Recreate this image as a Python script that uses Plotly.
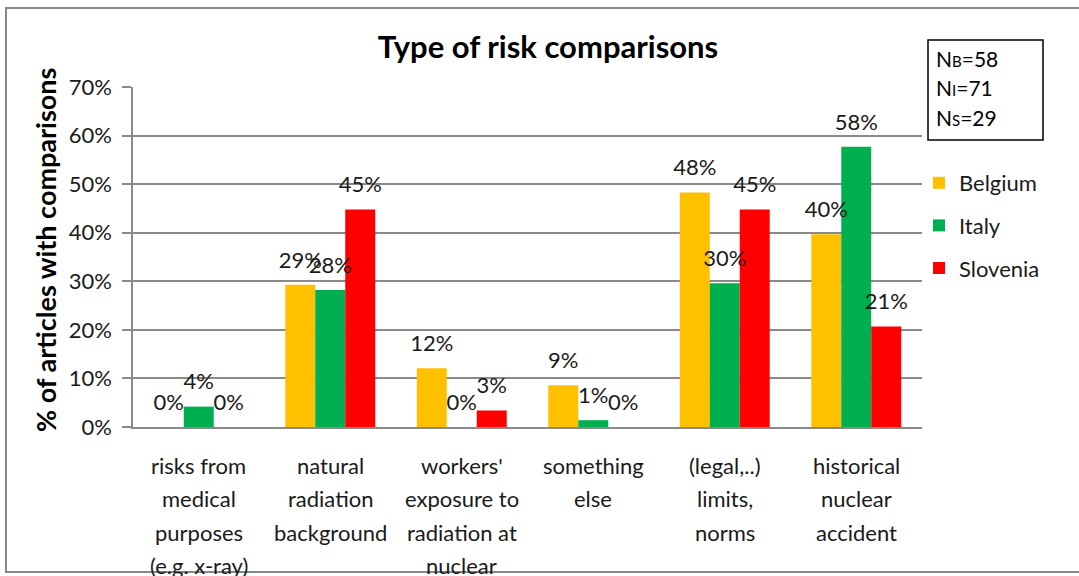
import plotly.graph_objects as go

# ---- data -------------------------------------------------------------
category_lines = [
    ["risks from", "medical", "purposes", "(e.g. x-ray)"],
    ["natural", "radiation", "background"],
    ["workers'", "exposure to", "radiation at", "nuclear"],
    ["something", "else"],
    ["(legal,..)", "limits,", "norms"],
    ["historical", "nuclear", "accident"],
]
categories = [" ".join(lines) for lines in category_lines]

belgium = [0.0, 0.293, 0.121, 0.086, 0.483, 0.397]
italy = [0.042, 0.282, 0.0, 0.014, 0.296, 0.577]
slovenia = [0.0, 0.448, 0.034, 0.0, 0.448, 0.207]

series_names = ["Belgium", "Italy", "Slovenia"]
series_values = [belgium, italy, slovenia]
series_colors = ["#FFC000", "#00B050", "#FF0000"]

sample_sizes = [("B", 58), ("I", 71), ("S", 29)]

y_ticks = [0, 0.1, 0.2, 0.3, 0.4, 0.5, 0.6, 0.7]

# ---- layout geometry (pixels) ----------------------------------------
W, H = 1079, 576
L, R, T, B = 133, 922, 87, 427
FONT = "Lato"
GRID = "#8a8a8a"


def px_x(p):
    return (p - L) / (R - L)


def px_y(p):
    return (B - p) / (B - T)


fig = go.Figure()

for name, vals, col in zip(series_names, series_values, series_colors):
    fig.add_trace(go.Bar(
        x=categories, y=vals, name=name, marker_color=col,
        marker_line_width=0, offsetgroup=name, legendgroup=name,
        hoverinfo="x+y+name",
    ))

# value labels sitting above each bar
for name, vals in zip(series_names, series_values):
    fig.add_trace(go.Scatter(
        x=categories, y=vals, mode="markers+text", offsetgroup=name,
        marker=dict(size=17, opacity=0), texttemplate="%{y:.0%}",
        textposition="top center",
        textfont=dict(family=FONT, size=22, color="#1a1a1a"),
        cliponaxis=False, showlegend=False, hoverinfo="skip",
    ))

annotations = []
# wrapped category labels below the axis
for cat, lines in zip(categories, category_lines):
    for i, line in enumerate(lines):
        annotations.append(dict(
            x=cat, xref="x", y=0, yref="paper", yanchor="middle",
            yshift=-(38 + 33.5 * i), text=line, showarrow=False,
            font=dict(family=FONT, size=22, color="#1a1a1a"),
        ))

# y-axis title
annotations.append(dict(
    x=px_x(45), xref="paper", y=px_y(250), yref="paper",
    text="% of articles with comparisons", textangle=-90, showarrow=False,
    xanchor="center", yanchor="middle",
    font=dict(family=FONT, size=27, color="black", weight="bold"),
))

# sample size box, one line per country
for i, (k, n) in enumerate(sample_sizes):
    annotations.append(dict(
        x=px_x(934), xref="paper", y=px_y(58 + 29.5 * i), yref="paper",
        xanchor="left", yanchor="middle", align="left",
        text=f"N<span style='font-size:15px'>{k}</span>={n}",
        showarrow=False, font=dict(family=FONT, size=21, color="black"),
    ))

shapes = [
    # sample size frame
    dict(type="rect", xref="paper", yref="paper",
         x0=px_x(928), x1=px_x(1043), y0=px_y(140), y1=px_y(40),
         line=dict(color="black", width=1.5)),
    # chart area frame
    dict(type="rect", xref="paper", yref="paper",
         x0=px_x(6), x1=px_x(1090), y0=px_y(572), y1=px_y(8),
         line=dict(color="#878787", width=2)),
]

fig.update_layout(
    width=W, height=H, autosize=False,
    margin=dict(l=L, r=W - R, t=T, b=H - B, pad=0),
    paper_bgcolor="white", plot_bgcolor="white",
    barmode="group", bargap=0.316, bargroupgap=0,
    scattermode="group", scattergap=0.316,
    font=dict(family=FONT, size=22, color="#1a1a1a"),
    title=dict(
        text="<b>Type of risk comparisons</b>", x=548 / W, xanchor="center",
        y=1 - 47 / H, yanchor="middle", yref="container",
        font=dict(family=FONT, size=31, color="black"),
    ),
    legend=dict(
        x=px_x(919), y=px_y(162), xanchor="left", yanchor="top",
        font=dict(family=FONT, size=22, color="#1a1a1a"),
        tracegroupgap=11, bgcolor="rgba(0,0,0,0)",
    ),
    annotations=annotations,
    shapes=shapes,
    showlegend=True,
)

fig.update_xaxes(
    showticklabels=False, showgrid=False, showline=True,
    linecolor=GRID, linewidth=1.6, ticks="", zeroline=False,
)
fig.update_yaxes(
    range=[0, 0.7], tickvals=y_ticks, tickformat=".0%",
    showgrid=True, gridcolor=GRID, gridwidth=1.6,
    showline=True, linecolor=GRID, linewidth=1.6,
    ticks="outside", ticklen=9, tickcolor=GRID, tickwidth=1.6,
    ticklabelstandoff=6, zeroline=False,
    tickfont=dict(family=FONT, size=22, color="#1a1a1a"),
)

fig.write_html("out.html")
